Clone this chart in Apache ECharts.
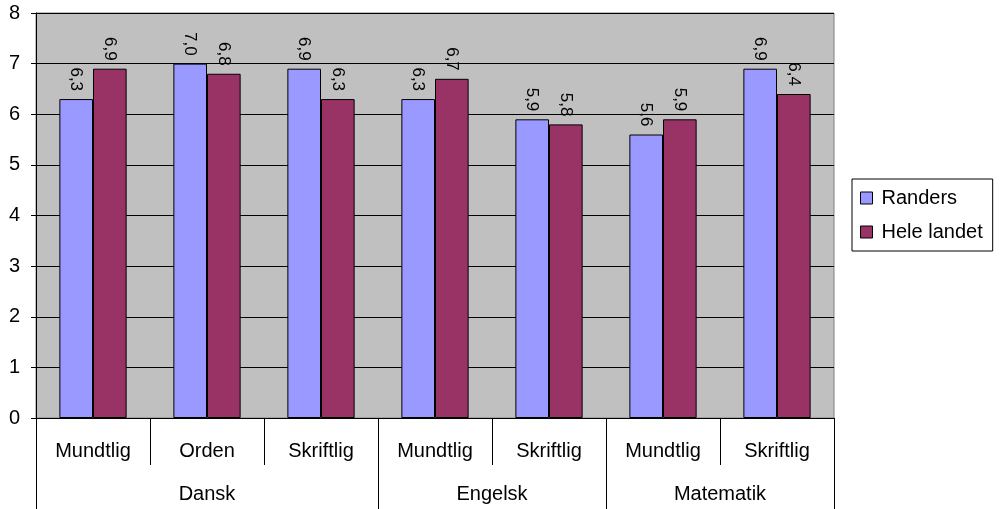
<!DOCTYPE html>
<html>
<head>
<meta charset="utf-8">
<script src="https://cdn.jsdelivr.net/npm/echarts@6/dist/echarts.min.js"></script>
<style>
html,body{margin:0;padding:0;background:#fff;}
#c{width:1001px;height:509px;}
</style>
</head>
<body>
<div id="c"></div>
<script>
const subCategories = ['Mundtlig', 'Orden', 'Skriftlig', 'Mundtlig', 'Skriftlig', 'Mundtlig', 'Skriftlig'];
const groups = ['Dansk', 'Engelsk', 'Matematik'];
const groupSizes = [3, 2, 2];
const randers = [6.3, 7.0, 6.9, 6.3, 5.9, 5.6, 6.9];
const heleLandet = [6.9, 6.8, 6.3, 6.7, 5.8, 5.9, 6.4];
const seriesNames = ['Randers', 'Hele landet'];
const yTicks = [0, 1, 2, 3, 4, 5, 6, 7, 8];

// Build half-step group axis (boundaryGap false, 2 slots per category)
const nHalf = subCategories.length * 2 + 1;
const groupAxisData = new Array(nHalf).fill('');
const groupBoundaryIdx = [0];
let start = 0;
groups.forEach((g, i) => {
  const mid = start + groupSizes[i] / 2;
  groupAxisData[Math.round(mid * 2)] = g;
  start += groupSizes[i];
  groupBoundaryIdx.push(start * 2);
});

const FONT = 'Liberation Sans, Arial, sans-serif';
const chart = echarts.init(document.getElementById('c'), null, {renderer: 'canvas'});
const labelFmt = p => p.value.toFixed(1).replace('.', ',');
const barLabel = {
  show: true, position: 'top', rotate: -90, align: 'right', verticalAlign: 'middle',
  distance: 8, formatter: labelFmt, color: '#000', fontFamily: FONT, fontSize: 17
};
chart.setOption({
  animation: false,
  backgroundColor: '#fff',
  textStyle: {fontFamily: FONT, color: '#000'},
  grid: {left: 36, right: 167, top: 13, bottom: 91, show: true,
         backgroundColor: '#C0C0C0', borderColor: '#808080', borderWidth: 1},
  legend: {
    orient: 'vertical', left: 852, top: 179,
    padding: [9, 10, 9, 8], itemGap: 14, itemWidth: 12, itemHeight: 12,
    borderColor: '#000', borderWidth: 1, icon: 'rect',
    textStyle: {fontFamily: FONT, fontSize: 20, color: '#000', padding: [0, 0, 0, 4]},
    itemStyle: {borderColor: '#000', borderWidth: 1},
    data: seriesNames
  },
  xAxis: [
    {
      type: 'category', data: subCategories, position: 'bottom',
      axisLine: {show: true, lineStyle: {color: '#000', width: 1}},
      axisTick: {show: true, interval: 0, length: 47, lineStyle: {color: '#000'}},
      axisLabel: {interval: 0, margin: 23, fontFamily: FONT, fontSize: 20, color: '#000'},
      splitLine: {show: false}
    },
    {
      type: 'category', data: groupAxisData, position: 'bottom', offset: 47,
      boundaryGap: false,
      axisLine: {show: false},
      axisTick: {show: true, length: 44, lineStyle: {color: '#000'},
                 interval: (idx) => groupBoundaryIdx.indexOf(idx) >= 0},
      axisLabel: {interval: 0, margin: 19, fontFamily: FONT, fontSize: 20, color: '#000'},
      splitLine: {show: false}
    }
  ],
  yAxis: {
    type: 'value', min: yTicks[0], max: yTicks[yTicks.length - 1], interval: 1,
    axisLine: {show: true, lineStyle: {color: '#000'}},
    axisTick: {show: true, length: 5, lineStyle: {color: '#000'}},
    axisLabel: {margin: 16, fontFamily: FONT, fontSize: 20, color: '#000'},
    splitLine: {show: true, lineStyle: {color: '#000', width: 1}}
  },
  series: [
    {
      name: seriesNames[0], type: 'bar', data: randers, xAxisIndex: 0,
      barGap: '0%', barCategoryGap: '41%',
      itemStyle: {color: '#9999FF', borderColor: '#000', borderWidth: 1},
      label: barLabel
    },
    {
      name: seriesNames[1], type: 'bar', data: heleLandet, xAxisIndex: 0,
      barGap: '0%', barCategoryGap: '41%',
      itemStyle: {color: '#993366', borderColor: '#000', borderWidth: 1},
      label: barLabel
    }
  ]
});
</script>
</body>
</html>
